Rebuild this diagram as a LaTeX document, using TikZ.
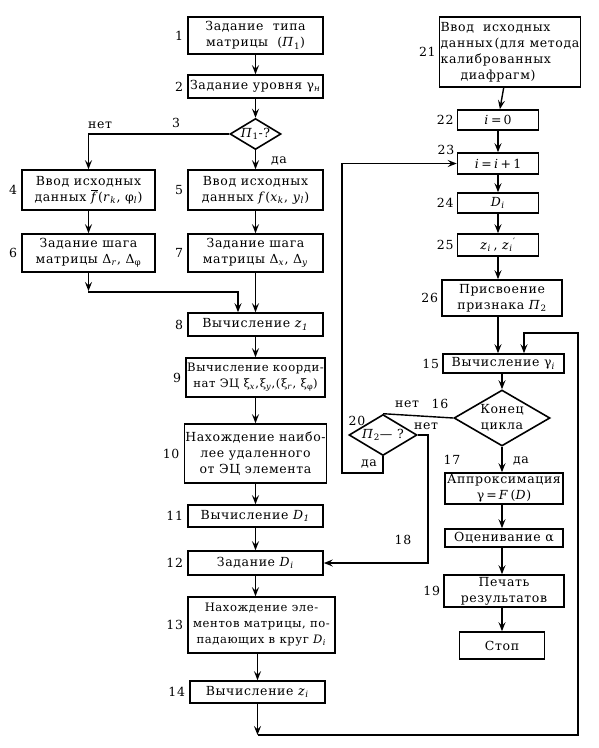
\documentclass[tikz,border=0pt]{standalone}
\usepackage{fontspec}
\setmainfont{DejaVu Serif}[LetterSpace=5]
\usetikzlibrary{arrows.meta,shapes.geometric,positioning}
\newcommand{\priz}[1]{\textit{П}\textsubscript{#1}}
\newcommand{\vr}[2]{\textit{#1}\textsubscript{\textit{#2}}}

\begin{document}
\begin{tikzpicture}[x=1pt,y=-1pt,
    every node/.style={font=\fontsize{12.5}{16}\selectfont},
    small/.style={font=\fontsize{11.6}{16}\selectfont},
    blk/.style={draw, line width=1.6pt, inner sep=1pt, align=center},
    dmd/.style={draw, diamond, line width=1.6pt, inner sep=0pt, align=center},
    num/.style={inner sep=1pt},
    ln/.style={line width=1.4pt},
    arr/.style={line width=1.4pt, -{Stealth[length=9pt,width=7pt,inset=3.5pt]}}]
    \useasboundingbox (0,0) rectangle (598,748);

    \node[blk, minimum width=135, minimum height=37] (b1) at (255.5,35.5) {Задание\ \ типа\\матрицы\ \ (\priz{1})};
    \node[blk, minimum width=135, minimum height=23] (b2) at (255.5,86.5) {Задание\ уровня\ γ\textsubscript{\textit{н}}};
    \node[dmd, minimum width=51, minimum height=31, aspect=1.65] (d3) at (255.5,134) {\priz{1}-?};
    \node[blk, minimum width=133, minimum height=40] (b4) at (88.5,190) {Ввод исходных\\данных $\overline{\mbox{\textit{f}}}$(\vr{r}{k}, φ\textsubscript{\textit{l}})};
    \node[blk, minimum width=135, minimum height=40] (b5) at (255.5,190) {Ввод исходных\\данных \textit{f}(\vr{x}{k}, \vr{y}{l})};
    \node[blk, minimum width=133, minimum height=38] (b6) at (88.5,253) {Задание шага\\матрицы Δ\textsubscript{\textit{r}}, Δ\textsubscript{φ}};
    \node[blk, minimum width=135, minimum height=38] (b7) at (255.5,253) {Задание шага\\матрицы Δ\textsubscript{\textit{x}}, Δ\textsubscript{\textit{y}}};
    \node[blk, minimum width=135, minimum height=23] (b8) at (255.5,324.5) {Вычисление \vr{z}{1}};
    \node[blk, small, minimum width=135, minimum height=39] (b9) at (255.5,377.5) {Вычисление коорди-\\нат ЭЦ ξ\textsubscript{\textit{x}},ξ\textsubscript{\textit{y}},(ξ\textsubscript{\textit{r}}, ξ\textsubscript{φ})};
    \node[blk, minimum width=135, minimum height=59] (b10) at (255.5,453.5) {Нахождение наибо-\\лее удаленного\\от ЭЦ элемента};
    \node[blk, minimum width=135, minimum height=22] (b11) at (255.5,516) {Вычисление \vr{D}{1}};
    \node[blk, minimum width=135, minimum height=24] (b12) at (255.5,563) {Задание \vr{D}{i}};
    \node[blk, small, minimum width=147, minimum height=56] (b13) at (261.5,625) {Нахождение эле-\\ментов матрицы, по-\\падающих в круг \vr{D}{i}};
    \node[blk, minimum width=135, minimum height=22] (b14) at (257.5,692) {Вычисление \vr{z}{i}};

    \node[blk, minimum width=136, minimum height=70, align=left] (b21) at (510,52) {Ввод\ \ исходных\\данных\,(для метода\\калиброванных\\\hspace{1.6em}диафрагм)};
    \node[blk, minimum width=81, minimum height=20] (b22) at (498,120) {\textit{i}\,=\,0};
    \node[blk, minimum width=81, minimum height=21] (b23) at (498,163.5) {\textit{i}\,=\,\textit{i}\,+\,1};
    \node[blk, minimum width=81, minimum height=20] (b24) at (498,203) {\vr{D}{i}};
    \node[blk, minimum width=81, minimum height=22] (b25) at (498,245) {\vr{z}{i}\,,\ \vr{z}{i}\textsuperscript{′}};
    \node[blk, minimum width=120, minimum height=36] (b26) at (502,298) {Присвоение\\признака \priz{2}};
    \node[blk, minimum width=121, minimum height=19] (b15) at (503.5,363.5) {Вычисление γ\textsubscript{\textit{i}}};
    \node[dmd, minimum width=96, minimum height=56, aspect=1.7] (d16) at (502,418) {Конец\\цикла};
    \node[dmd, minimum width=68, minimum height=41, aspect=1.66] (d20) at (383,435) {\priz{2}— ?};
    \node[blk, minimum width=118, minimum height=31] (b17) at (504,488.5) {Аппроксимация\\γ\,=\,\textit{F}\,(\textit{D})};
    \node[blk, minimum width=118, minimum height=18] (best) at (504,538) {Оценивание α};
    \node[blk, minimum width=120, minimum height=32] (b19) at (504,591) {Печать\\результатов};
    \node[blk, minimum width=85, minimum height=27] (bstop) at (502,645.5) {Стоп};

    \node[num, left=3pt of b1] (k1) {1};
    \node[num, left=3pt of b2] (k2) {2};
    \node[num] (k3) at (176,123) {3};
    \node[num, left=3pt of b4] (k4) {4};
    \node[num, left=3pt of b5] (k5) {5};
    \node[num, left=3pt of b6] (k6) {6};
    \node[num, left=3pt of b7] (k7) {7};
    \node[num, left=3pt of b8] (k8) {8};
    \node[num, left=3pt of b9] (k9) {9};
    \node[num, left=3pt of b10] (k10) {10};
    \node[num, left=3pt of b11] (k11) {11};
    \node[num, left=3pt of b12] (k12) {12};
    \node[num, left=3pt of b13] (k13) {13};
    \node[num, left=3pt of b14] (k14) {14};
    \node[num, left=2pt of b21] (k21) {21};
    \node[num, left=2pt of b22] (k22) {22};
    \node[num] (k23) at (446,150) {23};
    \node[num, left=2pt of b24] (k24) {24};
    \node[num, left=2pt of b25] (k25) {25};
    \node[num, left=2pt of b26] (k26) {26};
    \node[num, left=2pt of b15] (k15) {15};
    \node[num] (k16) at (440,404) {16};
    \node[num] (k17) at (452,460) {17};
    \node[num] (k18) at (403,540) {18};
    \node[num, left=2pt of b19] (k19) {19};
    \node[num] (k20) at (357,421) {20};

    \node (n3) at (100,125) {нет};
    \node (y3) at (279,161) {да};
    \node (n16) at (407,404) {нет};
    \node (n20) at (426,426) {нет};
    \node (y20) at (369,464) {да};
    \node (y16) at (521,461) {да};

    \coordinate (j6) at (88.5,291);
    \coordinate (j8) at (238,292);
    \coordinate (cb) at (257.5,735);
    \coordinate (cr) at (578,735);
    \coordinate (ct) at (524,333);
    \coordinate (c18) at (428,563);
    \coordinate (cy) at (342,473);

    \draw[arr] (b1) -- (b2);
    \draw[arr] (b2) -- (d3);
    \draw[arr] (d3) -- (b5);
    \draw[arr] (d3.west) -| (b4.north);
    \draw[arr] (b4) -- (b6);
    \draw[arr] (b5) -- (b7);
    \draw[arr] (b6.south) -- (j6);
    \draw[arr] (j6) |- (j8) -- (j8 |- b8.north);
    \draw[arr] (b7) -- (b8);
    \draw[arr] (b8) -- (b9);
    \draw[arr] (b9) -- (b10);
    \draw[arr] (b10) -- (b11);
    \draw[arr] (b11) -- (b12);
    \draw[arr] (b12.south) -- (b12.south |- b13.north);
    \draw[arr] (b13.south -| b14.south) -- (b14.north);
    \draw[arr] (b14.south) -- (cb);
    \draw[arr] (cb) -- (cr) |- (ct) -- (ct |- b15.north);

    \draw[arr] (b21) -- (b22);
    \draw[arr] (b22) -- (b23);
    \draw[arr] (b23) -- (b24);
    \draw[arr] (b24) -- (b25);
    \draw[arr] (b25.south) -- (b25.south |- b26.north);
    \draw[arr] (b26.south -| b25.south) -- (b25.south |- b15.north);
    \draw[arr] (b15.south -| d16.north) -- (d16.north);
    \draw[ln] (d16.west) -- (d20.north);
    \draw[arr] (d20.east) -| (c18) -- (b12.east);
    \draw[arr] (d20.south) |- (cy) |- (b23.west);
    \draw[arr] (d16.south) -- (d16.south |- b17.north);
    \draw[arr] (b17.south -| d16.south) -- (d16.south |- best.north);
    \draw[arr] (best.south -| d16.south) -- (d16.south |- b19.north);
    \draw[arr] (b19.south -| d16.south) -- (d16.south |- bstop.north);
\end{tikzpicture}
\end{document}
